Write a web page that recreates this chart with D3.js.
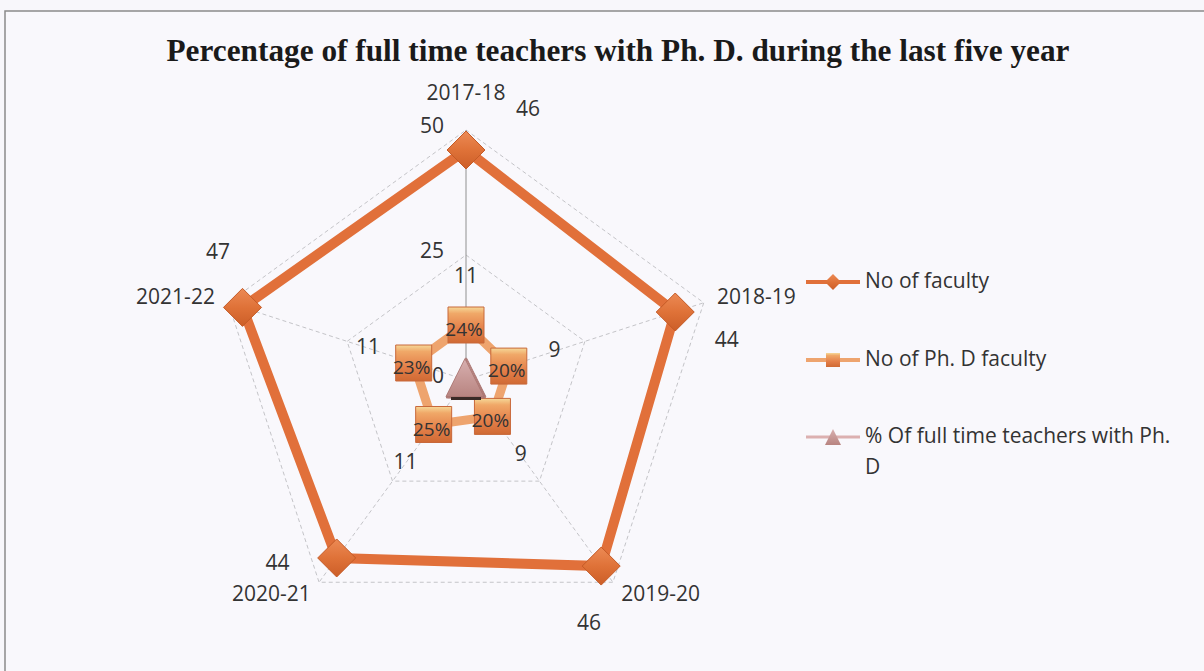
<!DOCTYPE html>
<html lang="en">
<head>
    <meta charset="UTF-8">
    <title>Percentage of full time teachers with Ph. D.</title>
    <style>
        body, html {
            margin: 0;
            padding: 0;
            width: 100%;
            height: 100%;
            overflow: hidden;
            background-color: #f8f7fb;
            font-family: 'Open Sans', 'Lato', sans-serif;
        }
        .lbl {
            fill: #333;
            font-size: 21px;
        }
    </style>
</head>
<body>
<div id="chart"></div>

<script src="https://cdnjs.cloudflare.com/ajax/libs/d3/7.8.5/d3.min.js"></script>
<script>
    // data
    const years = ["2017-18", "2018-19", "2019-20", "2020-21", "2021-22"];
    const faculty = [46, 44, 46, 44, 47];
    const phdFaculty = [11, 9, 9, 11, 11];
    const pctPhd = [0.24, 0.20, 0.20, 0.25, 0.23];
    const ticks = [0, 25, 50];
    const seriesNames = ["No of faculty", "No of Ph. D faculty", "% Of full time teachers with Ph. D"];

    const width = 1204, height = 671;
    const cx = 466, cy = 380;

    const svg = d3.select("#chart").append("svg")
        .attr("width", width)
        .attr("height", height);

    const defs = svg.append("defs");
    function vgrad(id, stops) {
        const g = defs.append("linearGradient").attr("id", id)
            .attr("x1", 0).attr("y1", 0).attr("x2", 0).attr("y2", 1);
        stops.forEach(s => g.append("stop").attr("offset", s[0]).attr("stop-color", s[1]));
    }
    vgrad("gDiamond", [[0, "#ec8a55"], [0.5, "#df7238"], [1, "#cc5e28"]]);
    vgrad("gSquare", [[0, "#f6d898"], [0.18, "#f0a868"], [0.6, "#e4804a"], [1, "#d06a34"]]);
    vgrad("gTri", [[0, "#d8b0b0"], [1, "#b88480"]]);

    // frame
    svg.append("rect")
        .attr("x", 5).attr("y", 11)
        .attr("width", 1210).attr("height", 670)
        .attr("fill", "#f9f8fc")
        .attr("stroke", "#8a8a8a").attr("stroke-width", 1.5);

    svg.append("text")
        .attr("x", 618).attr("y", 61)
        .attr("text-anchor", "middle")
        .attr("font-family", "'Liberation Serif', 'Times New Roman', serif")
        .attr("font-weight", "bold")
        .attr("font-size", 31)
        .attr("fill", "#1a1a1a")
        .attr("textLength", 903)
        .attr("lengthAdjust", "spacingAndGlyphs")
        .text("Percentage of full time teachers with  Ph. D. during the last five year");

    const r = d3.scaleLinear().domain([0, 50]).range([0, 250]);
    const angle = d3.scaleLinear().domain([0, years.length]).range([0, 2 * Math.PI]);

    function pt(i, v, extra = 0) {
        const a = angle(i);
        const rr = r(v) + extra;
        return [cx + rr * Math.sin(a), cy - rr * Math.cos(a)];
    }

    const g = svg.append("g");

    // grid rings
    ticks.filter(t => t > 0).forEach(t => {
        g.append("path")
            .attr("d", d3.line()(years.map((y, i) => pt(i, t))) + "Z")
            .attr("fill", "none")
            .attr("stroke", "#c4c4c8")
            .attr("stroke-width", 1)
            .attr("stroke-dasharray", "4,3");
    });

    // spokes
    years.forEach((y, i) => {
        const p = pt(i, 50);
        g.append("line")
            .attr("x1", cx).attr("y1", cy)
            .attr("x2", p[0]).attr("y2", p[1])
            .attr("stroke", i === 0 ? "#909090" : "#c4c4c8")
            .attr("stroke-width", 1)
            .attr("stroke-dasharray", i === 0 ? null : "4,3");
    });

    // tick labels
    ticks.forEach(t => {
        g.append("text").attr("class", "lbl")
            .attr("x", cx - 22).attr("y", cy - r(t) - 3)
            .attr("text-anchor", "end")
            .attr("dominant-baseline", "middle")
            .text(t);
    });

    const lineGen = d3.line();

    // series lines
    g.append("path")
        .attr("d", lineGen(faculty.map((v, i) => pt(i, v))) + "Z")
        .attr("fill", "none")
        .attr("stroke", "#e1703a")
        .attr("stroke-width", 10)
        .attr("stroke-linejoin", "miter");

    g.append("path")
        .attr("d", lineGen(phdFaculty.map((v, i) => pt(i, v))) + "Z")
        .attr("fill", "none")
        .attr("stroke", "#eea46e")
        .attr("stroke-width", 9)
        .attr("stroke-linejoin", "round");

    g.append("path")
        .attr("d", lineGen(pctPhd.map((v, i) => pt(i, v))) + "Z")
        .attr("fill", "none")
        .attr("stroke", "#dcb0b0")
        .attr("stroke-width", 3);

    // markers
    const diamond = s => `M0,${-s}L${s},0L0,${s}L${-s},0Z`;
    const square = s => `M${-s},${-s}H${s}V${s}H${-s}Z`;
    const tri = s => `M0,${-s}L${s},${s}H${-s}Z`;

    faculty.forEach((v, i) => {
        const p = pt(i, v);
        g.append("path")
            .attr("transform", `translate(${p[0]},${p[1]})`)
            .attr("d", diamond(19))
            .attr("fill", "url(#gDiamond)")
            .attr("stroke", "#c45a26").attr("stroke-width", 1);
    });

    phdFaculty.forEach((v, i) => {
        const p = pt(i, v);
        g.append("path")
            .attr("transform", `translate(${p[0]},${p[1]})`)
            .attr("d", square(18))
            .attr("fill", "url(#gSquare)")
            .attr("stroke", "#c8683a").attr("stroke-width", 1);
    });

    pctPhd.forEach((v, i) => {
        const p = pt(i, v);
        g.append("path")
            .attr("transform", `translate(${p[0]},${p[1] - 2})`)
            .attr("d", tri(19))
            .attr("fill", "url(#gTri)")
            .attr("stroke", "#a87470").attr("stroke-width", 0.8);
    });
    const tb = pt(0, 0);
    g.append("rect")
        .attr("x", tb[0] - 15).attr("y", tb[1] + 17)
        .attr("width", 30).attr("height", 3)
        .attr("fill", "#3a2a26");

    // data labels: No of faculty, pushed outward and clockwise from the marker
    faculty.forEach((v, i) => {
        const p = pt(i, v);
        const a = angle(i);
        const rad = 40, tan = i === 0 ? 62 : 44;
        const dx = rad * Math.sin(a) + tan * Math.cos(a);
        const dy = -rad * Math.cos(a) + tan * Math.sin(a);
        g.append("text").attr("class", "lbl")
            .attr("x", p[0] + dx).attr("y", p[1] + dy)
            .attr("text-anchor", "middle")
            .attr("dominant-baseline", "middle")
            .text(v);
    });

    // data labels: No of Ph. D faculty
    phdFaculty.forEach((v, i) => {
        const p = pt(i, v, 48);
        g.append("text").attr("class", "lbl")
            .attr("x", p[0]).attr("y", p[1])
            .attr("text-anchor", "middle")
            .attr("dominant-baseline", "middle")
            .text(v);
    });

    // data labels: percentages sit on the Ph. D markers
    pctPhd.forEach((v, i) => {
        const p = pt(i, phdFaculty[i], 0);
        g.append("text").attr("class", "lbl")
            .attr("x", p[0] - 2).attr("y", p[1] + 6)
            .attr("text-anchor", "middle")
            .attr("dominant-baseline", "middle")
            .attr("fill", "#3a2418")
            .style("font-size", "19px")
            .text(d3.format(".0%")(v));
    });

    // category labels
    years.forEach((y, i) => {
        const a = angle(i);
        const p = pt(i, 50, 14);
        const s = Math.sin(a);
        let anchor = "middle", dy = 0;
        if (s > 0.1) anchor = "start";
        else if (s < -0.1) anchor = "end";
        if (i === 0) dy = -22;
        if (Math.cos(a) < -0.5) dy = 2;
        g.append("text").attr("class", "lbl")
            .attr("x", p[0]).attr("y", p[1] + dy)
            .attr("text-anchor", anchor)
            .attr("dominant-baseline", "middle")
            .text(y);
    });

    // legend
    const legend = svg.append("g").attr("transform", "translate(806,282)");
    const lgY = [0, 78, 155];
    seriesNames.forEach((name, i) => {
        const row = legend.append("g").attr("transform", `translate(0,${lgY[i]})`);
        row.append("line")
            .attr("x1", 0).attr("x2", 54)
            .attr("stroke", ["#e1703a", "#eea46e", "#dcb0b0"][i])
            .attr("stroke-width", [4, 4, 3][i]);
        const m = row.append("path").attr("transform", "translate(27,0)");
        if (i === 0) m.attr("d", diamond(8)).attr("fill", "url(#gDiamond)");
        if (i === 1) m.attr("d", square(7)).attr("fill", "url(#gSquare)");
        if (i === 2) m.attr("d", tri(8)).attr("fill", "url(#gTri)");
        const t = row.append("text").attr("class", "lbl")
            .attr("x", 59).attr("y", 0)
            .attr("dominant-baseline", "middle");
        if (i === 2) {
            t.text("% Of full time teachers with Ph.");
            row.append("text").attr("class", "lbl")
                .attr("x", 59).attr("y", 31)
                .attr("dominant-baseline", "middle")
                .text("D");
        } else {
            t.text(name);
        }
    });
</script>
</body>
</html>
